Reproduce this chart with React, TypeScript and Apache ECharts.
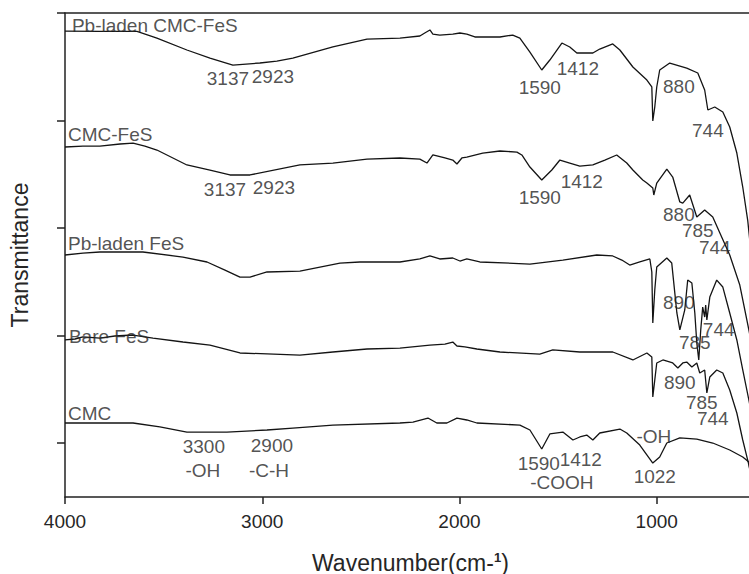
import React, { useEffect, useRef } from "react";
import * as echarts from "echarts";

// [wavenumber (cm-1), transmittance (offset, a.u.)]
const pbCmcFes: [number, number][] = [
  [4000, 433.2], [3823, 433], [3635, 433], [3534, 426.7], [3382, 415.6], [3265, 408.1], [3149, 401.6],
  [3012, 403.5], [2926, 405.3], [2845, 408.1], [2642, 418.4], [2469, 425.8], [2302, 426.7], [2201, 428.6],
  [2176, 431.4], [2150, 434.2], [2135, 430.4], [2100, 429.5], [2034, 430.4], [1998, 431.4], [1963, 430.4],
  [1922, 427.7], [1882, 427.7], [1795, 427.7], [1730, 429.5], [1694, 426.7], [1643, 413.7], [1583, 397.0],
  [1542, 406.3], [1481, 422.1], [1441, 418.4], [1405, 412.8], [1324, 412.8], [1289, 416.5], [1223, 421.2],
  [1187, 415.6], [1121, 399.8], [1050, 387.7], [1025, 381.2], [1020, 349.6], [1010, 362.6], [1000, 381.2],
  [985, 397.0], [934, 403.5], [848, 398.8], [792, 394.2], [757, 378.4], [741, 359.8], [706, 362.6],
  [665, 357.9], [630, 344.0], [594, 319.8], [564, 288.2], [539, 257.5], [518, 220.3], [500, 170],
];

const cmcFes: [number, number][] = [
  [4000, 325.4], [3909, 326.3], [3823, 326.3], [3721, 328.2], [3655, 329.1], [3595, 326.3], [3534, 322.6],
  [3382, 308.7], [3265, 304.0], [3164, 299.4], [3062, 299.4], [2809, 308.7], [2642, 310.5], [2469, 314.2],
  [2302, 315.2], [2201, 314.2], [2165, 310.5], [2135, 318.0], [2074, 315.2], [2034, 313.3], [2013, 309.6],
  [1988, 315.2], [1963, 316.1], [1882, 319.8], [1795, 321.7], [1709, 320.7], [1684, 318.0], [1643, 306.8],
  [1583, 294.7], [1532, 304.0], [1491, 313.3], [1441, 310.5], [1390, 307.7], [1324, 308.7], [1263, 313.3],
  [1203, 318.0], [1152, 310.5], [1121, 304.0], [1071, 294.7], [1050, 291.9], [1020, 287.3], [1015, 280.8],
  [1000, 291.9], [949, 304.9], [919, 297.5], [883, 274.3], [868, 273.3], [833, 280.8], [797, 260.3],
  [757, 266.8], [716, 260.3], [680, 245.4], [630, 225.0], [579, 197.1], [533, 155.3], [503, 127.4],
];

const pbFes: [number, number][] = [
  [4000, 225.0], [3909, 226.8], [3823, 227.8], [3605, 227.8], [3402, 223.1], [3280, 218.5], [3189, 211.0],
  [3113, 204.5], [3062, 204.5], [2976, 209.2], [2809, 210.1], [2606, 217.5], [2505, 218.5], [2302, 218.5],
  [2201, 221.3], [2150, 224.1], [2100, 221.3], [2034, 222.2], [1998, 219.4], [1963, 221.3], [1897, 218.5],
  [1643, 216.6], [1476, 220.3], [1304, 225.0], [1223, 224.1], [1177, 220.3], [1137, 215.7], [1086, 218.5],
  [1035, 221.3], [1025, 209.2], [1020, 161.8], [1010, 192.4], [1000, 213.8], [949, 222.2], [924, 217.5],
  [898, 171.1], [883, 155.3], [858, 173.9], [843, 201.7], [822, 199.0], [807, 171.1], [797, 143.2],
  [787, 127.4], [777, 155.3], [767, 176.6], [757, 167.3], [752, 178.5], [746, 164.6], [731, 185.9],
  [696, 201.7], [665, 195.2], [630, 171.1], [594, 146.0], [564, 118.1], [533, 90.2], [503, 62.3],
];

const bareFes: [number, number][] = [
  [4000, 146.0], [3949, 146.9], [3909, 148.8], [3823, 147.8], [3747, 149.7], [3655, 150.6], [3554, 147.8],
  [3402, 144.1], [3265, 141.3], [3113, 133.9], [2809, 132.0], [2642, 134.8], [2469, 137.6], [2302, 138.5],
  [2150, 141.3], [2074, 142.2], [2034, 144.1], [2013, 140.4], [1973, 139.5], [1912, 137.6], [1795, 134.8],
  [1593, 132.9], [1527, 136.7], [1390, 134.8], [1223, 134.8], [1121, 127.4], [1050, 133.9], [1025, 130.2],
  [1020, 93.0], [1010, 108.8], [1000, 124.6], [969, 127.4], [919, 124.6], [893, 119.9], [868, 124.6],
  [848, 125.5], [822, 120.9], [797, 124.6], [782, 115.3], [757, 118.1], [746, 96.7], [731, 111.6],
  [696, 118.1], [665, 115.3], [630, 99.5], [594, 78.1], [564, 53.0], [533, 29.8], [503, 6.5],
];

const cmc: [number, number][] = [
  [4000, 68.8], [3655, 68.8], [3519, 65.1], [3382, 60.4], [3179, 60.4], [2976, 62.3], [2845, 64.1],
  [2642, 66.9], [2302, 68.8], [2236, 69.7], [2160, 73.4], [2115, 68.8], [2064, 68.8], [2013, 73.4],
  [1963, 71.6], [1912, 68.8], [1694, 66.9], [1643, 62.3], [1583, 44.6], [1542, 58.6], [1476, 60.4],
  [1425, 53.0], [1390, 55.8], [1355, 57.6], [1324, 53.0], [1289, 59.5], [1187, 63.2], [1152, 59.5],
  [1086, 48.3], [1020, 31.6], [985, 37.2], [949, 50.2], [883, 54.9], [797, 53.9], [716, 50.2],
  [630, 43.7], [564, 37.2], [533, 32.5], [518, 6.5],
];

const seriesNames = ["Pb-laden CMC-FeS", "CMC-FeS", "Pb-laden FeS", "Bare FeS", "CMC"];
const seriesData = [pbCmcFes, cmcFes, pbFes, bareFes, cmc];

// curve names, left aligned at [wavenumber, transmittance]
const curveNameLabels: [string, number, number][] = [
  ["Pb-laden CMC-FeS", 3965, 438.8],
  ["CMC-FeS", 3985, 336.6],
  ["Pb-laden FeS", 3985, 236.1],
  ["Bare FeS", 3980, 148.8],
  ["CMC", 3985, 77.2],
];

// peak annotations, centred at [wavenumber, transmittance]
const peakLabels: [string, number, number][] = [
  ["3137", 3174, 389.5], ["2923", 2946, 391.4], ["1590", 1593, 380.3], ["1412", 1400, 398.8],
  ["880", 888, 381.2], ["744", 741, 341.2],
  ["3137", 3189, 286.3], ["2923", 2941, 288.2], ["1590", 1593, 278.9], ["1412", 1380, 292.9],
  ["880", 888, 262.2], ["785", 792, 248.2], ["744", 706, 232.4],
  ["890", 888, 180.4], ["785", 807, 143.2], ["744", 686, 155.3],
  ["890", 883, 106.0], ["785", 772, 88.3], ["744", 716, 73.4],
  ["3300", 3296, 46.5], ["-OH", 3301, 24.2], ["2900", 2951, 48.3], ["-C-H", 2966, 25.1],
  ["1590", 1598, 30.7], ["1412", 1385, 35.3], ["-COOH", 1481, 13.9], ["1022", 1010, 18.6], ["-OH", 1015, 55.8],
];

const xTicks = [0, 1000, 2000, 3000, 4000];
const yTicks = [50, 150, 250, 350, 450];

const FONT = "'Liberation Sans', Arial, sans-serif";
const TEXT = "#262626";
const AXIS = "#222";

export default function App() {
  const ref = useRef<HTMLDivElement>(null);
  useEffect(() => {
    if (!ref.current) return;
    const chart = echarts.init(ref.current, undefined, { renderer: "svg" });
    const lineSeries = seriesData.map((d, i) => ({
      name: seriesNames[i],
      type: "line",
      data: d,
      showSymbol: false,
      symbol: "none",
      lineStyle: { color: "#141414", width: 1.3 },
      silent: true,
      z: 2,
    }));
    const option: any = {
      animation: false,
      backgroundColor: "#fff",
      textStyle: { fontFamily: FONT },
      grid: { left: 65, width: 789, top: 13, height: 484, containLabel: false, outerBoundsMode: "none" },
      xAxis: [
        {
          type: "value",
          inverse: true,
          min: xTicks[0],
          max: xTicks[xTicks.length - 1],
          interval: 1000,
          axisLine: { show: true, onZero: false, lineStyle: { color: AXIS, width: 1.5 } },
          axisTick: { show: true, length: 7, lineStyle: { color: AXIS, width: 1.5 } },
          axisLabel: {
            show: true,
            showMinLabel: false,
            margin: 15,
            fontSize: 19,
            color: TEXT,
            fontFamily: FONT,
            formatter: (v: number) => String(v),
          },
          splitLine: { show: false },
        },
        {
          type: "value",
          position: "top",
          inverse: true,
          min: xTicks[0],
          max: xTicks[xTicks.length - 1],
          axisLine: { show: true, onZero: false, lineStyle: { color: AXIS, width: 1.5 } },
          axisTick: { show: false },
          axisLabel: { show: false },
          splitLine: { show: false },
        },
      ],
      yAxis: {
        type: "value",
        position: "left",
        min: 0,
        max: 450,
        name: "Transmittance",
        nameLocation: "middle",
        nameGap: 34,
        nameTextStyle: { fontSize: 23, color: TEXT, fontFamily: FONT },
        axisLine: { show: true, onZero: false, lineStyle: { color: AXIS, width: 1.5 } },
        axisTick: { show: true, length: 8, customValues: yTicks, lineStyle: { color: AXIS, width: 1.5 } },
        axisLabel: { show: false },
        splitLine: { show: false },
      },
      series: [
        ...lineSeries,
        {
          type: "scatter",
          symbolSize: 0,
          silent: true,
          data: curveNameLabels.map(([t, x, y]) => ({ value: [x, y], name: t })),
          label: {
            show: true,
            position: "inside",
            align: "left",
            verticalAlign: "middle",
            formatter: (p: any) => p.name,
            fontSize: 19,
            color: TEXT,
            fontFamily: FONT,
          },
          z: 5,
        },
        {
          type: "scatter",
          symbolSize: 0,
          silent: true,
          data: peakLabels.map(([t, x, y]) => ({ value: [x, y], name: t })),
          label: {
            show: true,
            position: "inside",
            align: "center",
            verticalAlign: "middle",
            formatter: (p: any) => p.name,
            fontSize: 19,
            color: TEXT,
            fontFamily: FONT,
          },
          labelLayout: { hideOverlap: false },
          z: 5,
        },
      ],
      graphic: [
        {
          type: "text",
          left: 312,
          top: 551,
          style: {
            text: "Wavenumber(cm-{sup|1})",
            fontSize: 23,
            fontFamily: FONT,
            fill: TEXT,
            rich: {
              sup: { fontSize: 13, fontWeight: "bold", verticalAlign: "top", fill: TEXT, fontFamily: FONT },
            },
          },
        },
      ],
    };
    chart.setOption(option);
    return () => chart.dispose();
  }, []);
  return <div ref={ref} style={{ width: 749, height: 574, position: "fixed", left: 0, top: 0 }} />;
}
